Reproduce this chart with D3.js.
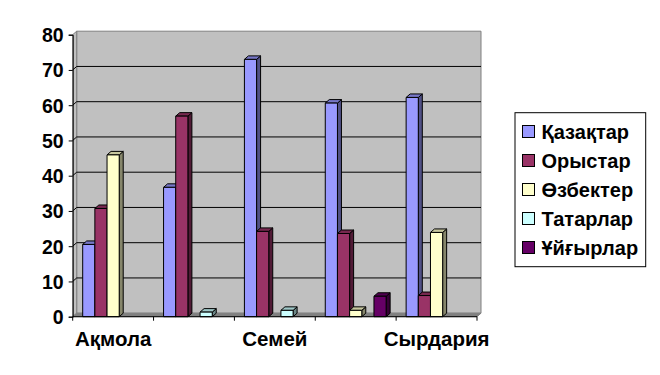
<!DOCTYPE html>
<html lang="kk">
<head>
<meta charset="UTF-8">
<title>Ұлттық құрам</title>
<script src="https://d3js.org/d3.v7.min.js"></script>
<style>
    body { margin: 0; background: #fff; }
    svg text { font-family: "Liberation Sans", Arial, sans-serif; font-weight: bold; fill: #000; }
</style>
</head>
<body>
<svg id="chart" width="660" height="375"></svg>
<script>
    // regions (only every other label is shown, as in the original)
    let tickLabels = ["Ақмола", "", "Семей", "", "Сырдария"];
    let seriesNames = ["Қазақтар", "Орыстар", "Өзбектер", "Татарлар", "Ұйғырлар"];
    let kazakh  = [20.5, 36.7, 73.0, 60.6, 62.2];
    let russian = [30.7, 56.9, 24.2, 23.6, 6.0];
    let uzbek   = [45.9, 0, 0, 1.8, 23.9];
    let tatar   = [0, 1.3, 1.8, 0, 0];
    let uyghur  = [0, 0, 0, 5.8, 0];
    let yTicks = [0, 10, 20, 30, 40, 50, 60, 70, 80];
    let colors = ["#9999FF", "#993366", "#FFFFCC", "#CCFFFF", "#660066"];

    let seriesValues = [kazakh, russian, uzbek, tatar, uyghur];

    let svg = d3.select("#chart");
    let x0 = 72.7, x1 = 477, yTop = 34.7, yBot = 316.7;
    let dx = 4, dy = -3.5;

    let y = d3.scaleLinear().domain([0, 80]).range([yBot, yTop]);
    let x = d3.scaleBand().domain(d3.range(tickLabels.length)).range([x0, x1]).padding(0);
    let xs = d3.scaleBand().domain(seriesNames).range([10, x.bandwidth() - 10]).padding(0);

    // walls
    svg.append("polygon")
        .attr("points", [[x0 + dx, y(80) + dy], [x1 + dx, y(80) + dy], [x1 + dx, yBot + dy], [x0 + dx, yBot + dy]].join(" "))
        .attr("fill", "#C0C0C0").attr("stroke", "#808080");
    svg.append("polygon")
        .attr("points", [[x0, y(80)], [x0 + dx, y(80) + dy], [x0 + dx, yBot + dy], [x0, yBot]].join(" "))
        .attr("fill", "#C0C0C0").attr("stroke", "#808080");

    // gridlines
    let grid = svg.append("g").attr("stroke", "#000").attr("stroke-width", 1);
    yTicks.filter(t => t > 0 && t < 80).forEach(function (t) {
        grid.append("line").attr("x1", x0 + dx).attr("x2", x1 + dx).attr("y1", y(t) + dy).attr("y2", y(t) + dy);
        grid.append("line").attr("x1", x0).attr("x2", x0 + dx).attr("y1", y(t)).attr("y2", y(t) + dy);
    });

    // floor
    svg.append("polygon")
        .attr("points", [[x0, yBot], [x1, yBot], [x1 + dx, yBot + dy], [x0 + dx, yBot + dy]].join(" "))
        .attr("fill", "#808080").attr("stroke", "#808080");

    // bars
    let bars = svg.append("g").attr("stroke", "#000").attr("stroke-width", 1).attr("stroke-linejoin", "round");
    tickLabels.forEach(function (lab, ci) {
        seriesNames.forEach(function (s, si) {
            let v = seriesValues[si][ci];
            if (!v) return;
            let bx = x(ci) + xs(s), bw = xs.bandwidth();
            let top = y(v);
            let c = d3.color(colors[si]);
            bars.append("polygon")
                .attr("points", [[bx + bw, top], [bx + bw + dx, top + dy], [bx + bw + dx, yBot + dy], [bx + bw, yBot]].join(" "))
                .attr("fill", c.darker(1.8));
            bars.append("polygon")
                .attr("points", [[bx, top], [bx + dx, top + dy], [bx + bw + dx, top + dy], [bx + bw, top]].join(" "))
                .attr("fill", c.darker(0.7));
            bars.append("rect")
                .attr("x", bx).attr("y", top).attr("width", bw).attr("height", yBot - top)
                .attr("fill", c);
        });
    });

    // y axis
    let yAxis = svg.append("g").attr("transform", "translate(" + x0 + ",0)")
        .call(d3.axisLeft(y).tickValues(yTicks).tickSize(4).tickPadding(5));
    yAxis.select(".domain").attr("stroke", "#000");
    yAxis.selectAll(".tick line").attr("stroke", "#000");
    yAxis.selectAll("text").attr("font-size", 19.5).attr("dy", "0.35em");

    // x axis
    let xg = svg.append("g");
    xg.append("line").attr("x1", x0).attr("x2", x1).attr("y1", yBot).attr("y2", yBot).attr("stroke", "#000");
    d3.range(tickLabels.length + 1).forEach(function (i) {
        let tx = i < tickLabels.length ? x(i) : x1;
        xg.append("line").attr("x1", tx).attr("x2", tx).attr("y1", yBot).attr("y2", yBot + 4).attr("stroke", "#000");
    });
    xg.selectAll("text.cat").data(tickLabels).join("text")
        .attr("class", "cat")
        .attr("x", (d, i) => x(i) + x.bandwidth() / 2)
        .attr("y", 346)
        .attr("text-anchor", "middle")
        .attr("font-size", 20.5)
        .text(d => d);

    // legend
    let lg = svg.append("g");
    lg.append("rect").attr("x", 515).attr("y", 112.7).attr("width", 130.7).attr("height", 154)
        .attr("fill", "#fff").attr("stroke", "#000");
    seriesNames.forEach(function (s, i) {
        let cy = 131.5 + i * 29;
        lg.append("rect").attr("x", 522.5).attr("y", cy - 6).attr("width", 12).attr("height", 12)
            .attr("fill", colors[i]).attr("stroke", "#000");
        lg.append("text").attr("x", 541.5).attr("y", cy).attr("dy", "0.36em")
            .attr("font-size", 20).text(s);
    });
</script>
</body>
</html>
